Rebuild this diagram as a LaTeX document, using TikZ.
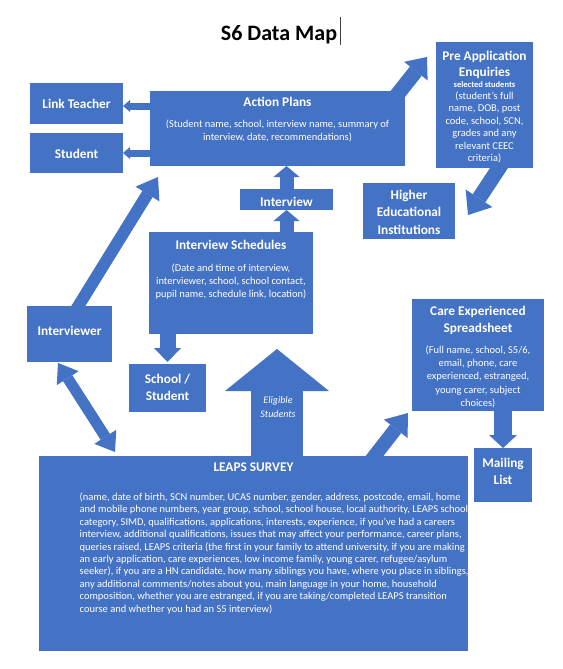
\documentclass[tikz,border=0pt]{standalone}
\usepackage{fontspec}
\setmainfont{Carlito}
\usetikzlibrary{arrows.meta,calc}
\definecolor{boxblue}{HTML}{4472C4}
\pgfdeclarelayer{bg}
\pgfsetlayers{bg,main}
\begin{document}
\begin{tikzpicture}[x=1pt,y=-1pt,
  box/.style={fill=boxblue, draw=none, inner sep=0pt, outer sep=0pt},
  ttl/.style={text=white, font=\fontsize{13.3}{17}\selectfont\bfseries, inner sep=0pt, anchor=base, align=center},
  body/.style={text=white, font=\fontsize{10.5}{13}\selectfont, inner sep=0pt, anchor=base, align=center},
  blk/.style n args={3}{draw=boxblue, line width=#1, -{Triangle[width=#2,length=#3,line width=0pt]}},
  dblk/.style n args={3}{draw=boxblue, line width=#1, {Triangle[width=#2,length=#3,line width=0pt]}-{Triangle[width=#2,length=#3,line width=0pt]}},
]
\useasboundingbox (0,0) rectangle (562,669);

% title
\node[font=\fontsize{22}{26}\selectfont\bfseries, anchor=base, inner sep=0pt] (title) at (279,41) {S6 Data Map};
\draw[line width=0.6pt, black!75] (340,17) -- (340,45);

% boxes
\node[box, minimum width=93pt, minimum height=41pt] (lt) at (76.5,103.5) {};
\node[box, minimum width=93pt, minimum height=40pt] (st) at (76.5,153) {};
\node[box, minimum width=255pt, minimum height=75pt] (ap) at (277.5,128.5) {};
\node[box, minimum width=97pt, minimum height=126pt] (pa) at (484.5,105) {};
\node[box, minimum width=92pt, minimum height=56pt] (he) at (409,211) {};
\node[box, minimum width=93pt, minimum height=21pt] (iv) at (286.5,199.5) {};
\node[box, minimum width=164pt, minimum height=102pt] (is) at (231,283) {};
\node[box, minimum width=85pt, minimum height=56pt] (ivr) at (69.5,334) {};
\node[box, minimum width=77pt, minimum height=48pt] (ss) at (167.5,388) {};
\node[box, minimum width=132pt, minimum height=112pt] (ce) at (478,355) {};
\node[box, minimum width=58pt, minimum height=54pt] (ml) at (503,475) {};
\node[box, minimum width=429pt, minimum height=195pt] (lp) at (253.5,553.5) {};

% texts (anchor base = baseline of the last line)
\node[ttl] (ltT) at (76.5,108) {Link Teacher};
\node[ttl] (stT) at (76.5,158) {Student};
\node[ttl] (apT) at (277.5,106) {Action Plans};
\node[body] (apB) at (277.5,140) {(Student name, school, interview name, summary of\\interview, date, recommendations)};
\node[ttl, font=\fontsize{13.3}{15}\selectfont\bfseries] (paT) at (484.5,76) {Pre Application\\Enquiries};
\node[ttl, font=\fontsize{8.5}{10}\selectfont\bfseries] (paS) at (484.5,87.5) {selected students};
\node[body, font=\fontsize{10.5}{12.4}\selectfont] (paB) at (484.5,161.5) {(student’s full\\name, DOB, post\\code, school, SCN,\\grades and any\\relevant CEEC\\criteria)};
\node[ttl, font=\fontsize{13.3}{17.5}\selectfont\bfseries] (heT) at (409,234) {Higher\\Educational\\Institutions};
\node[ttl] (ivT) at (286.5,206) {Interview};
\node[ttl] (isT) at (231,249.5) {Interview Schedules};
\node[body] (isB) at (231,297.5) {(Date and time of interview,\\interviewer, school, school contact,\\pupil name, schedule link, location)};
\node[ttl] (ivrT) at (69.5,335.5) {Interviewer};
\node[ttl] (ssT) at (167.5,400.5) {School /\\Student};
\node[ttl] (ceT) at (478,332.5) {Care Experienced\\Spreadsheet};
\node[body, font=\fontsize{10.5}{13.2}\selectfont] (ceB) at (478,406.3) {(Full name, school, S5/6,\\email, phone, care\\experienced, estranged,\\young carer, subject\\choices)};
\node[ttl] (mlT) at (503,484.5) {Mailing\\List};
\node[ttl] (lpT) at (253.5,471.5) {LEAPS SURVEY};
\node[body, align=left, anchor=base west, font=\fontsize{10.5}{12.4}\selectfont] (lpB) at (79.5,612.1) {(name, date of birth, SCN number, UCAS number, gender, address, postcode, email, home\\
and mobile phone numbers, year group, school, school house, local authority, LEAPS school\\
category, SIMD, qualifications, applications, interests, experience, if you’ve had a careers\\
interview, additional qualifications, issues that may affect your performance, career plans,\\
queries raised, LEAPS criteria (the first in your family to attend university, if you are making\\
an early application, care experiences, low income family, young carer, refugee/asylum\\
seeker), if you are a HN candidate, how many siblings you have, where you place in siblings,\\
any additional comments/notes about you, main language in your home, household\\
composition, whether you are estranged, if you are taking/completed LEAPS transition\\
course and whether you had an S5 interview)};

% arrows
\coordinate (a1) at ($(lt.east)+(0,2.5)$);
\coordinate (bigA) at ($(lp.north west)+(238,0)$);
\coordinate (bigT) at ($(bigA |- is.south)+(0,15)$);
\begin{pgfonlayer}{bg}
\fill[white] (0,0) rectangle (562,669);
\draw[blk={7pt}{12pt}{7pt}] (ap.west |- a1) -- (a1);
\draw[blk={7pt}{12pt}{7pt}] (ap.west |- st.east) -- (st.east);
\draw[blk={14pt}{26pt}{11pt}] (iv.north) -- (iv.north |- ap.south);
\draw[blk={14pt}{26pt}{11pt}] (iv.south |- is.north) -- (iv.south);
\draw[blk={16pt}{27pt}{14pt}] (ss.north |- is.south) -- ($(ss.north)+(0,-2)$);
\draw[blk={52pt}{104pt}{42pt}] (bigA) -- (bigT);
\draw[blk={18pt}{28pt}{13pt}] (ml.north |- ce.south) -- (ml.north);
\draw[blk={12pt}{28pt}{20pt}] ($(ivr.north)+(4.5,7)$) -- ($(ap.south west)+(8,11)$);
\draw[dblk={11pt}{26pt}{18pt}] ($(ivr.south)+(-11.5,1)$) -- ($(lp.north west)+(76,-4)$);
\draw[blk={14pt}{30pt}{20pt}] ($(lp.north east)+(-98.4,6.3)$) -- ($(ce.south west)+(-4,2)$);
\draw[blk={15pt}{32pt}{20pt}] ($(pa.south east)+(-29.6,-6.7)$) -- ($(he.east)+(13,4)$);
\draw[blk={15pt}{30pt}{18pt}] ($(ap.north east)+(-12,9)$) -- ($(pa.north west)+(-9,15)$);
\end{pgfonlayer}
\node[text=white, font=\fontsize{10}{14}\selectfont\itshape, inner sep=0pt, anchor=base, align=center] (elig) at (278,417) {Eligible\\Students};
\end{tikzpicture}
\end{document}
